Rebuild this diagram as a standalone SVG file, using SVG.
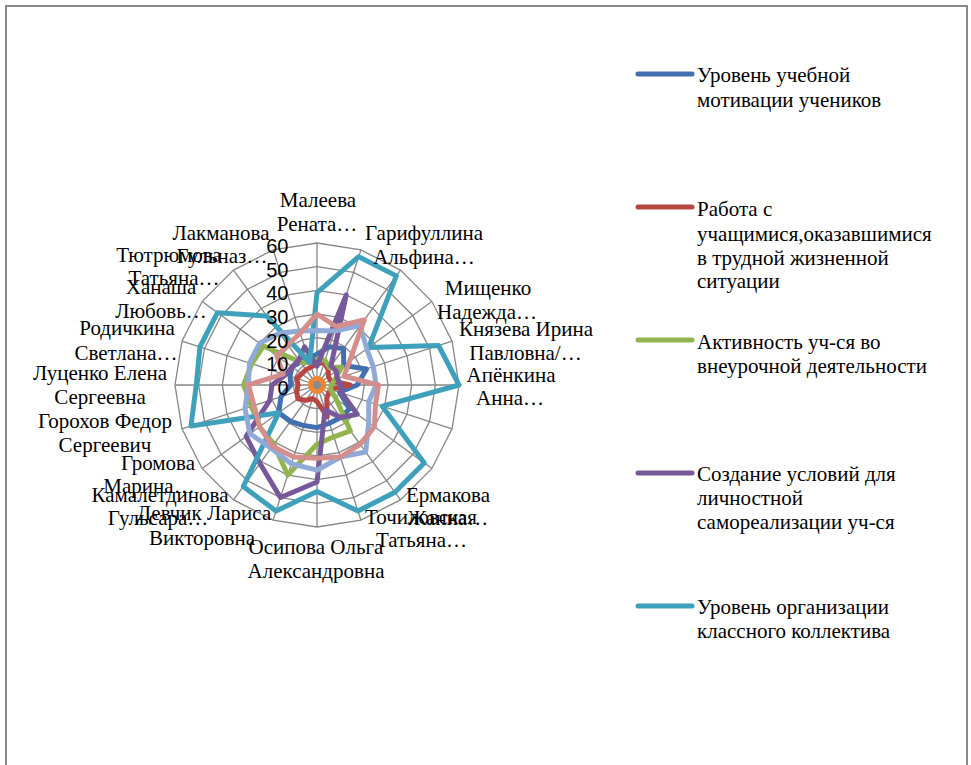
<svg xmlns="http://www.w3.org/2000/svg" width="971" height="765" viewBox="0 0 971 765">
<style>
.grid{fill:none;stroke:#868686;stroke-width:1.3}
.s{fill:none;stroke-width:5;stroke-linejoin:round;stroke-linecap:round}
.cat{font-family:"Liberation Serif","Times New Roman",serif;font-size:21px;fill:#000;text-anchor:middle}
.leg{font-family:"Liberation Serif","Times New Roman",serif;font-size:21px;fill:#000}
.ax{font-family:"Liberation Sans",Arial,sans-serif;font-size:20px;fill:#000;text-anchor:end}
.lm{stroke-width:5;stroke-linecap:round}
</style>
<defs>
<polygon id="p20" vector-effect="non-scaling-stroke" points="0,-142 43.88,-135.05 83.47,-114.88 114.88,-83.47 135.05,-43.88 142,0 135.05,43.88 114.88,83.47 83.47,114.88 43.88,135.05 0,142 -43.88,135.05 -83.47,114.88 -114.88,83.47 -135.05,43.88 -142,0 -135.05,-43.88 -114.88,-83.47 -83.47,-114.88 -43.88,-135.05"/>
</defs>
<rect x="6" y="6" width="961" height="770" fill="#fff" stroke="#8a8a8a" stroke-width="2"/>
<g id="chart" transform="translate(317 385)">
<g id="grid" class="grid">
<use href="#p20" transform="scale(0.166667)"/>
<use href="#p20" transform="scale(0.333333)"/>
<use href="#p20" transform="scale(0.5)"/>
<use href="#p20" transform="scale(0.666667)"/>
<use href="#p20" transform="scale(0.833333)"/>
<use href="#p20"/>
<path d="M0 0L0 -142M0 0L43.88 -135.05M0 0L83.47 -114.88M0 0L114.88 -83.47M0 0L135.05 -43.88M0 0L142 0M0 0L135.05 43.88M0 0L114.88 83.47M0 0L83.47 114.88M0 0L43.88 135.05M0 0L0 142M0 0L-43.88 135.05M0 0L-83.47 114.88M0 0L-114.88 83.47M0 0L-135.05 43.88M0 0L-142 0M0 0L-135.05 -43.88M0 0L-114.88 -83.47M0 0L-83.47 -114.88M0 0L-43.88 -135.05"/>
</g>
<g id="connectors">
<polygon id="s-blue" class="s" stroke="#416FB0" points="0,-30.77 12.43,-38.26 26.43,-36.38 26.8,-19.47 49.52,-16.09 40.23,0 22.51,7.31 32.55,23.65 23.65,32.55 12.43,38.26 0,42.6 -13.16,40.52 -26.43,36.38 -38.29,27.82 -36.02,11.7 -26.03,0 -27.01,-8.78 -24.89,-18.09 -16.69,-22.98 -8.78,-27.01"/>
<polygon id="s-red" class="s" stroke="#B84744" points="0,-21.3 7.31,-22.51 11.13,-15.32 11.49,-8.35 13.51,-4.39 33.13,0 13.51,4.39 11.49,8.35 9.74,13.41 10.24,31.51 0,16.57 -4.39,13.51 -11.13,15.32 -19.15,13.91 -20.26,6.58 -18.93,0 -20.26,-6.58 -15.32,-11.13 -11.13,-15.32 -5.85,-18"/>
<polygon id="s-green" class="s" stroke="#91B44E" points="0,-26.03 8.04,-24.76 12.52,-17.23 24.89,-18.09 18,-5.85 14.2,0 13.51,4.39 19.15,13.91 33.39,45.95 16.82,51.77 0,59.17 -29.25,90.04 -43.13,59.36 -57.44,41.73 -65.27,21.21 -73.37,0 -65.27,-21.21 -53.61,-38.95 -16.69,-22.98 -7.31,-22.51"/>
<polygon id="s-purple" class="s" stroke="#76589B" points="0,-18.93 29.25,-90.04 13.91,-19.15 19.15,-13.91 20.26,-6.58 23.67,0 24.76,8.04 40.21,29.21 23.65,32.55 8.04,24.76 0,97.03 -36.57,112.54 -57.03,78.5 -70.85,51.47 -47.27,15.36 -44.97,0 -31.51,-10.24 -24.89,-18.09 -18.09,-24.89 -12.43,-38.26"/>
<polygon id="s-teal" class="s" stroke="#3FA0BB" points="0,-92.3 41.69,-128.3 79.29,-109.14 51.7,-37.56 121.55,-39.49 142,0 65.27,21.21 107.22,77.9 77.9,107.22 40.95,126.04 0,106.5 -40.95,126.04 -73.73,101.48 -38.29,27.82 -126.04,40.95 -120.7,0 -117.05,-38.03 -99.57,-72.34 -50.08,-68.93 -7.31,-22.51"/>
<polygon id="s-lightblue" class="s" stroke="#8FAAD6" points="0,-54.43 17.55,-54.02 43.13,-59.36 49.78,-36.17 56.27,-18.28 59.17,0 51.77,16.82 51.7,37.56 48.69,67.01 23.4,72.02 0,85.2 -25.6,78.78 -45.91,63.18 -67.01,48.69 -72.02,23.4 -68.63,0 -67.53,-21.94 -57.44,-41.73 -37.56,-51.7 -17.55,-54.02"/>
<polygon id="s-pink" class="s" stroke="#D48E8C" points="0,-71 19.01,-58.52 47.3,-65.1 32.55,-23.65 27.01,-8.78 61.53,0 58.52,19.01 57.44,41.73 43.13,59.36 23.4,72.02 0,73.37 -23.4,72.02 -44.51,61.27 -57.44,41.73 -63.03,20.48 -68.63,0 -33.76,-10.97 -40.21,-29.21 -29.21,-40.21 -16.82,-51.77"/>
<use id="s-orange" href="#p20" transform="scale(0.0458)" fill="none" stroke="#EE8535" stroke-width="5"/>
<use id="s-gray" href="#p20" transform="scale(0.012)" fill="#8a8a8a" stroke="#8a8a8a" stroke-width="4"/>
</g>
<g id="axis-labels" class="ax">
<text x="-28.5" y="10">0</text>
<text x="-28.5" y="-13.7">10</text>
<text x="-28.5" y="-37.3">20</text>
<text x="-28.5" y="-61">30</text>
<text x="-28.5" y="-84.7">40</text>
<text x="-28.5" y="-108.3">50</text>
<text x="-28.5" y="-132">60</text>
</g>
</g>
<g id="category-labels" class="cat">
<g id="c-maleeva"><text x="318" y="207">Малеева</text><text x="317" y="231">Рената…</text></g>
<g id="c-garifullina"><text x="424" y="240">Гарифуллина</text><text x="424" y="263.5">Альфина…</text></g>
<g id="c-mishchenko"><text x="488" y="295">Мищенко</text><text x="487" y="318.5">Надежда…</text></g>
<g id="c-knyazeva"><text x="526" y="336">Князева Ирина</text><text x="525.5" y="360">Павловна/…</text></g>
<g id="c-apenkina"><text x="511" y="382">Апёнкина</text><text x="510" y="405">Анна…</text></g>
<g id="c-ermakova"><text x="448" y="501.5">Ермакова</text><text x="448" y="525">Жанна…</text></g>
<g id="c-tochilovskaya"><text x="421" y="523.5">Точиловская</text><text x="421.5" y="547">Татьяна…</text></g>
<g id="c-osipova"><text x="316" y="554">Осипова Ольга</text><text x="316" y="578">Александровна</text></g>
<g id="c-devchik"><text x="204" y="520">Девчик Лариса</text><text x="202" y="545">Викторовна</text></g>
<g id="c-kamaletdinova"><text x="160" y="501.5">Камалетдинова</text><text x="158" y="525">Гульсара…</text></g>
<g id="c-gromova"><text x="158" y="470">Громова</text><text x="149" y="493">Марина…</text></g>
<g id="c-gorokhov"><text x="105" y="428">Горохов Федор</text><text x="105" y="452">Сергеевич</text></g>
<g id="c-lutsenko"><text x="100" y="380">Луценко Елена</text><text x="100" y="404">Сергеевна</text></g>
<g id="c-rodichkina"><text x="127" y="335">Родичкина</text><text x="126" y="360">Светлана…</text></g>
<g id="c-khanasha"><text x="161" y="294">Ханаша</text><text x="161" y="318">Любовь…</text></g>
<g id="c-tyutryumova"><text x="169" y="262">Тютрюмова</text><text x="174" y="285">Татьяна…</text></g>
<g id="c-lakmanova"><text x="221" y="240">Лакманова</text><text x="222" y="263">Гульназ…</text></g>
</g>
<g id="legend">
<g id="leg-1"><line class="lm" x1="638" y1="74" x2="692" y2="74" stroke="#416FB0"/><text class="leg" x="697" y="82">Уровень учебной</text><text class="leg" x="697" y="107">мотивации учеников</text></g>
<g id="leg-2"><line class="lm" x1="638" y1="207" x2="692" y2="207" stroke="#B84744"/><text class="leg" x="697" y="215.5">Работа с</text><text class="leg" x="697" y="240.5">учащимися,оказавшимися</text><text class="leg" x="697" y="264.5">в трудной жизненной</text><text class="leg" x="697" y="288">ситуации</text></g>
<g id="leg-3"><line class="lm" x1="638" y1="340" x2="692" y2="340" stroke="#91B44E"/><text class="leg" x="697" y="348.5">Активность уч-ся во</text><text class="leg" x="697" y="373">внеурочной деятельности</text></g>
<g id="leg-4"><line class="lm" x1="638" y1="473" x2="692" y2="473" stroke="#76589B"/><text class="leg" x="697" y="481">Создание условий для</text><text class="leg" x="697" y="505">личностной</text><text class="leg" x="697" y="529">самореализации уч-ся</text></g>
<g id="leg-5"><line class="lm" x1="638" y1="606" x2="692" y2="606" stroke="#3FA0BB"/><text class="leg" x="697" y="614">Уровень организации</text><text class="leg" x="697" y="638">классного коллектива</text></g>
</g>
</svg>
